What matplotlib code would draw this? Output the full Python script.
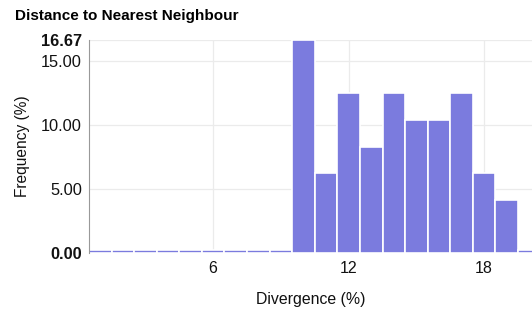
import numpy as np
import matplotlib
matplotlib.use("Agg")
import matplotlib.pyplot as plt

plt.rcParams['font.family'] = ['Liberation Sans', 'DejaVu Sans']

# histogram bins (centres, % divergence) and frequencies (%)
bin_centres = list(range(1, 21))
freq = [0, 0, 0, 0, 0, 0, 0, 0, 0, 16.67, 6.25, 12.5, 8.33, 12.5, 10.42, 10.42, 12.5, 6.25, 4.17, 0]
x_ticks = [6, 12, 18]
y_ticks = [0, 5, 10, 15, 16.67]
y_labels = ["0.00", "5.00", "10.00", "15.00", "16.67"]

bar_col = "#7b7bde"

fig = plt.figure(figsize=(5.32, 3.09), dpi=100)
ax = fig.add_axes([89 / 532, 1 - 253 / 309, 1 - 89 / 532, 213 / 309])

# zero bins still get a thin stub so they show along the base
heights = [v if v > 0 else 0.22 for v in freq]
ax.bar(bin_centres, heights, width=1.0, color=bar_col, edgecolor="white", linewidth=1.2, zorder=2)

ax.set_xlim(0.5, 20.12)
ax.set_ylim(0, 16.67)
ax.set_xticks(x_ticks)
ax.set_yticks(y_ticks)
ax.set_yticklabels(y_labels)
for lbl, t in zip(ax.get_yticklabels(), y_ticks):
    if t in (0, 16.67):
        lbl.set_fontweight("bold")

ax.tick_params(axis="y", length=0, labelsize=11.8, pad=5, colors="#111111")
ax.tick_params(axis="x", length=0, labelsize=11.5, pad=6, colors="#111111")
ax.grid(True, color="#ebebeb", linewidth=0.9, zorder=0)
ax.set_axisbelow(True)
for s in ["top", "right", "bottom"]:
    ax.spines[s].set_visible(False)
ax.spines["left"].set_color("#999999")
ax.spines["left"].set_linewidth(0.8)

ax.set_xlabel("Divergence (%)", fontsize=11.4, labelpad=11, color="#111111")
ax.set_ylabel("Frequency (%)", fontsize=11.2, labelpad=8, color="#111111")

fig.text(15 / 532, 1 - 16 / 309, "Distance to Nearest Neighbour", fontsize=11,
         fontweight="bold", va="center", ha="left")

fig.savefig("out.png", dpi=100)
